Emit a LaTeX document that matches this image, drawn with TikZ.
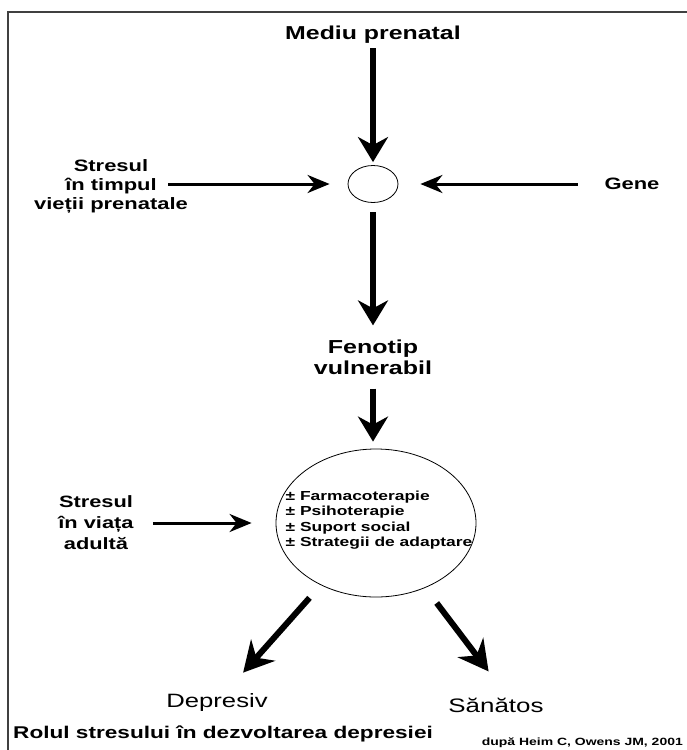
\documentclass[tikz,border=0pt]{standalone}
\usepackage{fontspec}
\setmainfont[FakeStretch=1.33]{Liberation Sans}
\usetikzlibrary{arrows.meta,shapes.geometric}
\newcommand{\marime}[2]{\fontsize{#1}{#2}\selectfont}

\begin{document}
\begin{tikzpicture}[x=1pt,y=-1pt,
        eticheta/.style={inner sep=0pt},
        cerc/.style={draw,ellipse,line width=0.8pt,inner sep=0pt},
        groasa/.style={line width=6.5pt,-{Stealth[length=25pt,width=30pt,inset=8pt]}},
        subtire/.style={line width=3pt,-{Stealth[length=22pt,width=18pt,inset=7pt]}},
        diagonala/.style={line width=6pt,-{Stealth[length=30pt,width=32pt,inset=10pt]}}]

    \useasboundingbox (0,0) rectangle (687,750);
    \draw[black!75,line width=1.2pt] (687,12) -- (8,12) -- (8,750);

    \node[eticheta,anchor=base,font=\bfseries\marime{18.7pt}{21pt}] (mediu) at (373,39) {Mediu prenatal};
    \node[cerc,minimum width=50pt,minimum height=37pt] (nod) at (373,184) {};
    \node[eticheta,align=center,font=\bfseries\marime{16.5pt}{19pt}] (stresprenatal) at (111,186)
        {Stresul\\în timpul\\vieții prenatale};
    \node[eticheta,font=\bfseries\marime{16.5pt}{19pt}] (gene) at (632,184) {Gene};
    \node[eticheta,align=center,font=\bfseries\marime{18.8pt}{21pt}] (fenotip) at (373,357)
        {Fenotip\\vulnerabil};

    \node[cerc,minimum width=200pt,minimum height=148pt] (tratament) at (376,523) {};
    \node[eticheta,align=left,font=\bfseries\marime{13.1pt}{15.5pt}] (lista) at (379,520)
        {± Farmacoterapie\\± Psihoterapie\\± Suport social\\± Strategii de adaptare};
    \node[eticheta,align=center,font=\bfseries\marime{16.4pt}{21pt}] (stresadult) at (96,523)
        {Stresul\\în viața\\adultă};

    \node[eticheta,anchor=base,font=\marime{19.3pt}{22pt}] (depresiv) at (217,707) {Depresiv};
    \node[eticheta,anchor=base,font=\marime{19.5pt}{22pt}] (sanatos) at (496,712) {Sănătos};

    \node[eticheta,anchor=base west,font=\bfseries\marime{17pt}{20pt}] (titlu) at (13,738)
        {Rolul stresului în dezvoltarea depresiei};
    \node[eticheta,anchor=base east,font=\bfseries\marime{10.5pt}{12pt}] (sursa) at (683,745)
        {după Heim C, Owens JM, 2001};

    % sageti
    \draw[groasa,shorten <=5pt,shorten >=3pt] (mediu) -- (nod);
    \draw[groasa,shorten <=9.5pt,shorten >=14pt] (nod) -- (fenotip);
    \draw[groasa,shorten <=14pt,shorten >=7pt] (fenotip.south) -- (fenotip.south |- tratament.north);
    \draw[subtire,shorten >=18pt] ([xshift=-20pt]stresprenatal.east |- nod) -- (nod);
    \draw[subtire,shorten <=26.5pt,shorten >=22pt] (gene) -- (nod);
    \draw[subtire,shorten <=19pt,shorten >=24pt] (stresadult) -- (tratament);
    \draw[diagonala,shorten <=17pt,shorten >=27pt] (tratament) -- (depresiv);
    \draw[diagonala,shorten <=19pt,shorten >=42pt] (tratament) -- ([xshift=18pt]sanatos.center);
\end{tikzpicture}
\end{document}
